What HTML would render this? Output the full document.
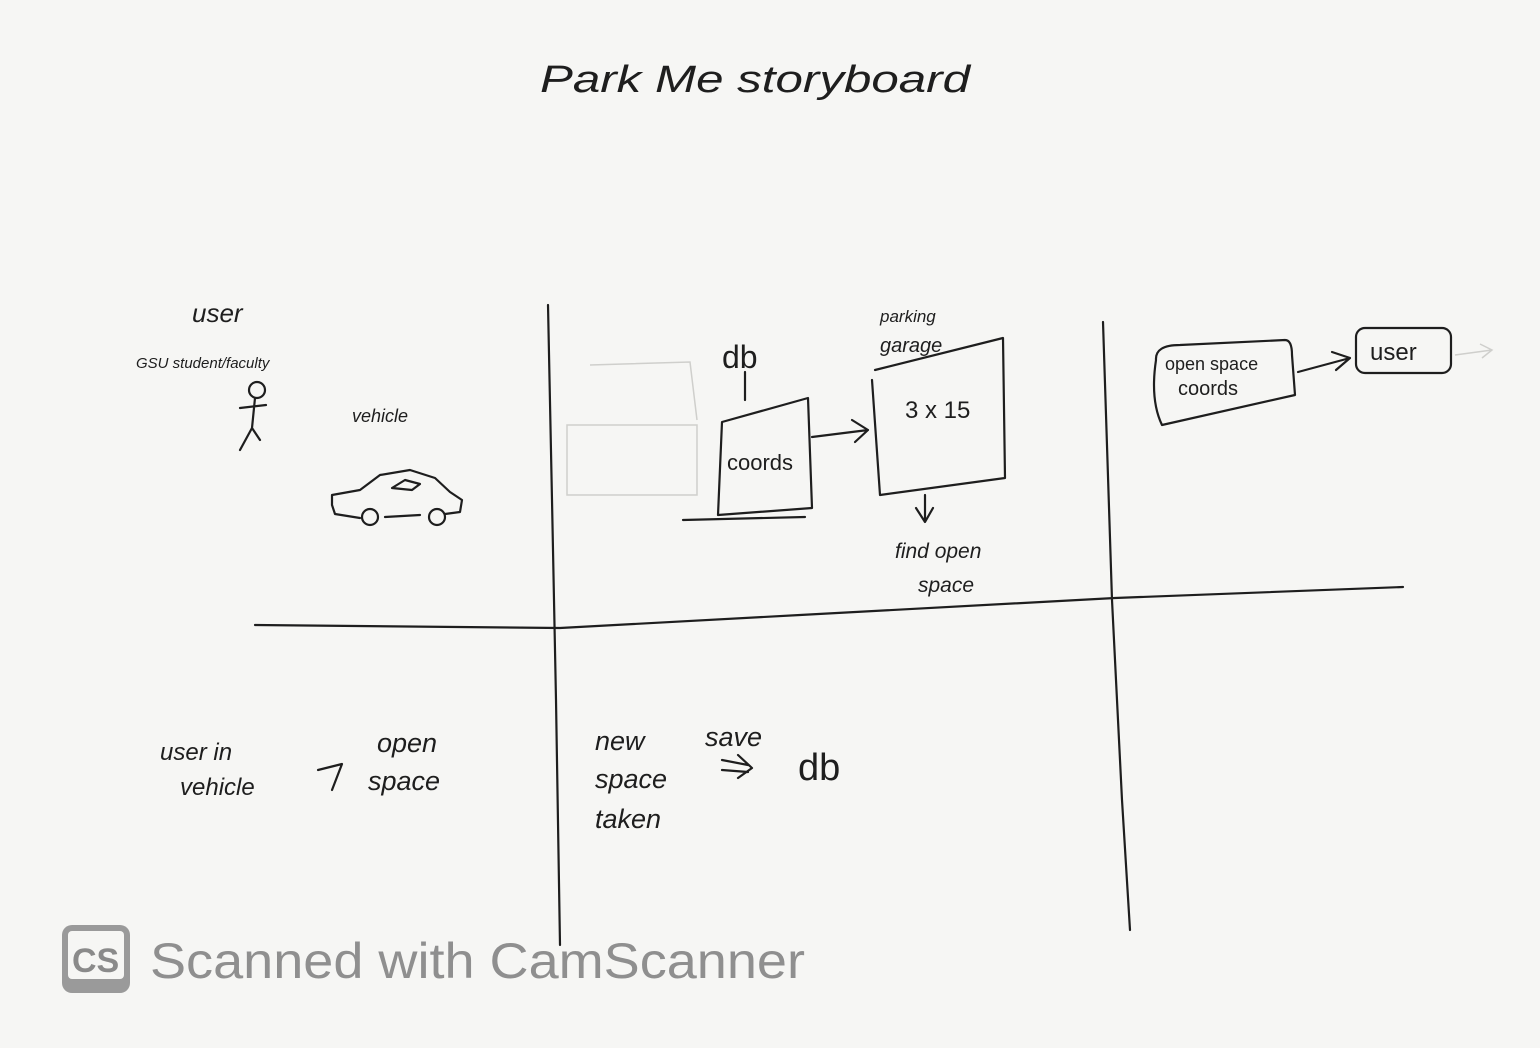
<!DOCTYPE html>
<html><head><meta charset="utf-8"><style>
html,body{margin:0;padding:0;background:#f6f6f4;}
svg{display:block}
text{font-family:"Liberation Sans",sans-serif;fill:#1e1e1e}
</style></head><body>
<svg width="1540" height="1048" viewBox="0 0 1540 1048" xmlns="http://www.w3.org/2000/svg">
<rect width="1540" height="1048" fill="#f6f6f4"/>
<g stroke="#1e1e1e" stroke-width="2.2" fill="none" stroke-linecap="round" stroke-linejoin="round">
<path d="M548 305 L552 500 L556 700 L560 945"/>
<path d="M1103 322 L1112 600 L1122 800 L1130 930"/>
<path d="M255 625 L560 628 L800 615 L1115 598 L1403 587"/>
<circle cx="257" cy="390" r="8"/>
<path d="M255 398 L252 428 M240 408 L266 405 M252 428 L240 450 M252 428 L260 440"/>
<path d="M332 505 L332 495 L360 490 L380 475 L410 470 L435 478 L450 492 L462 500 L460 512 L445 514 M420 515 L385 517 M360 518 L335 514 L332 505"/>
<circle cx="370" cy="517" r="8"/><circle cx="437" cy="517" r="8"/>
<path d="M392 488 L405 480 L420 484 L412 490 Z"/>
<path d="M745 372 L745 400"/>
<path d="M722 422 L808 398 L812 508 L718 515 Z"/>
<path d="M683 520 L805 517"/>
<path d="M812 437 L868 430 M852 420 L868 430 L855 442"/>
<path d="M875 370 L1003 338 L1005 478 L880 495 L872 380"/>
<path d="M925 495 L925 520 M916 508 L925 522 L933 508"/>
<path d="M1156 360 Q1155 345 1180 345 L1285 340 Q1292 340 1292 355 L1295 395 L1162 425 Q1150 400 1156 360"/>
<path d="M1298 372 L1350 358 M1332 352 L1350 358 L1336 370"/>
<rect x="1356" y="328" width="95" height="45" rx="9"/>
<path d="M318 770 L342 764 L332 790"/>
<path d="M722 760 L748 765 M722 770 L748 772 M738 755 L752 768 L738 778"/>
</g>
<g stroke="#cfcfcc" stroke-width="1.5" fill="none">
<rect x="567" y="425" width="130" height="70"/>
<path d="M590 365 L690 362 L697 420 M1455 355 L1492 350 M1480 344 L1492 350 L1482 358"/>
</g>
<text x="540" y="92" font-size="38" font-style="italic" textLength="430" lengthAdjust="spacingAndGlyphs">Park Me storyboard</text>
<text x="192" y="322" font-size="26" font-style="italic">user</text>
<text x="136" y="368" font-size="15" font-style="italic">GSU student/faculty</text>
<text x="352" y="422" font-size="18" font-style="italic">vehicle</text>
<text x="722" y="368" font-size="32">db</text>
<text x="727" y="470" font-size="22">coords</text>
<text x="880" y="322" font-size="17" font-style="italic">parking</text>
<text x="880" y="352" font-size="20" font-style="italic">garage</text>
<text x="905" y="418" font-size="24">3 x 15</text>
<text x="895" y="558" font-size="21" font-style="italic">find open</text>
<text x="918" y="592" font-size="21" font-style="italic">space</text>
<text x="1165" y="370" font-size="18">open space</text>
<text x="1178" y="395" font-size="20">coords</text>
<text x="1370" y="360" font-size="24">user</text>
<text x="160" y="760" font-size="24" font-style="italic">user in</text>
<text x="180" y="795" font-size="24" font-style="italic">vehicle</text>
<text x="377" y="752" font-size="27" font-style="italic">open</text>
<text x="368" y="790" font-size="27" font-style="italic">space</text>
<text x="595" y="750" font-size="27" font-style="italic">new</text>
<text x="595" y="788" font-size="27" font-style="italic">space</text>
<text x="595" y="828" font-size="27" font-style="italic">taken</text>
<text x="705" y="746" font-size="27" font-style="italic">save</text>
<text x="798" y="780" font-size="38">db</text>
<rect x="62" y="925" width="68" height="68" rx="10" fill="#9a9a9a"/>
<rect x="68" y="931" width="56" height="48" rx="4" fill="#f6f6f4"/>
<text x="72" y="972" font-size="34" font-weight="bold" style="fill:#8a8a8a">CS</text>
<text x="150" y="978" font-size="50" style="fill:#8f8f8f" textLength="655" lengthAdjust="spacingAndGlyphs">Scanned with CamScanner</text>
</svg>
</body></html>
